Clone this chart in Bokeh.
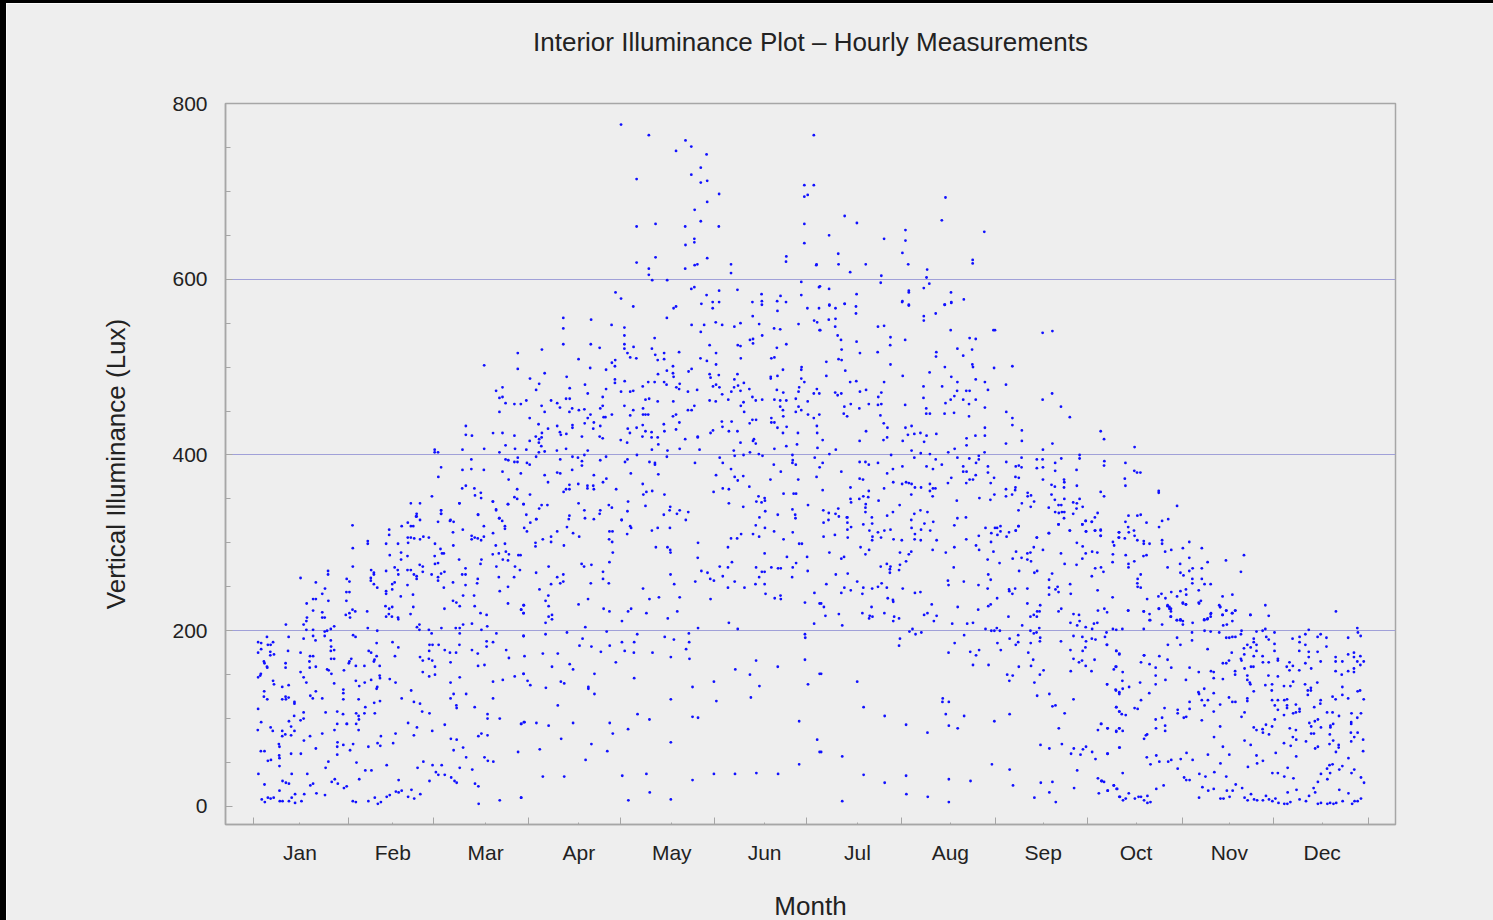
from bokeh.plotting import figure
from bokeh.models import FixedTicker, ColumnDataSource, Title
from bokeh.embed import file_html
from bokeh.resources import INLINE

TITLE = "Interior Illuminance Plot \u2013 Hourly Measurements"
X_LABEL = "Month"
Y_LABEL = "Vertical Illuminance (Lux)"
MONTHS = ["Jan", "Feb", "Mar", "Apr", "May", "Jun", "Jul", "Aug", "Sep", "Oct", "Nov", "Dec"]
MONTH_LABEL_AT = [15.2, 45.6, 76.0, 106.5, 136.9, 167.3, 197.7, 228.1, 258.5, 288.9, 319.4, 349.8]
MONTH_EDGES = [0, 31, 59, 90, 120, 151, 181, 212, 243, 273, 304, 334, 365]
Y_MAJOR = [0, 200, 400, 600, 800]
Y_MINOR = [50, 100, 150, 250, 300, 350, 450, 500, 550, 650, 700, 750]
Y_GRID = [200, 400, 600]

# (day of year, lux)
jan = [(1.5,187),(2.5,186),(4.4,193),(6.4,187),(4.7,184),(5.6,184),(2.5,179),(1.5,175),(5.5,176),(6.7,173),(5.5,172),(3.4,165),(3.6,163),(4.4,159),(4.5,158),(2.4,151),(2.2,149),(1.5,147),(6.4,143),(6.7,139),(9.4,136),(11.5,138),(3.5,131),(3.4,125),(4.5,122),(9.4,122),(10.5,125),(10.6,122),(11.5,124),(13.4,119),(13.4,117),(1.5,111),(2.5,96),(1.4,87),(5.6,90),(6.3,86),(11.6,97),(12.3,91),(9.4,86),(10.4,82),(9.4,80),(12.3,81),(13.4,86),(13.3,103),(16.4,107),(16.4,100),(15.4,98),(15.4,175),(18.3,165),(18.5,171),(19.5,171),(18.4,158),(20.4,159),(16.4,147),(17.3,141),(15.4,153),(11.3,177),(10.5,163),(10.5,158),(11.5,193),(16.4,191),(10.6,207),(16.4,207),(17.5,215),(17.3,211),(17.3,201),(19.5,201),(19.5,194),(20.3,189),(23.3,194),(23.3,199),(24.1,200),(25.3,202),(26.4,205),(25.3,189),(25.4,182),(26.4,178),(25.3,177),(25.4,168),(26.4,168),(24.1,156),(24.6,155),(25.5,151),(26.4,140),(20.4,131),(18.6,126),(19.4,123),(22.5,123),(23.6,107),(27.4,108),(29.3,105),(26.5,87),(27.4,94),(18.5,80),(22.5,83),(16.5,75),(20.4,66),(8.3,71),(8.5,68),(12.3,60),(15.5,60),(8.4,58),(8.5,55),(8.5,46),(2.4,63),(3.6,63),(4.7,52),(5.7,53),(1.6,37),(3.6,25),(8.5,18),(9.5,29),(10.6,27),(11.6,26),(12.5,37),(17.6,37),(18.6,24),(19.5,26),(2.7,8),(3.7,5),(4.7,10),(5.6,9),(6.6,10),(8.6,6),(9.5,6),(11.6,6),(12.5,10),(13.6,14),(13.6,4),(15.7,6),(16.6,14),(20.6,15),(23.4,13),(23.6,44),(24.5,51),(27.4,59),(27.4,68),(27.5,73),(29.4,70),(25.6,28),(26.6,31),(27.6,26),(29.6,21),(30.5,23),(30.5,94),(15.4,260),(20.4,255),(23.4,248),(24.4,268),(24.4,264),(22.5,242),(19.5,236),(20.4,236),(17.4,231),(24.5,234),(19.5,223),(22.5,221),(22.5,215),(23.3,215),(30.5,259),(30.4,244),(30.4,234),(30.2,218),(29.4,133),(29.4,129),(29.4,122),(29.6,155)]
feb = [(31.4,256),(31.4,244),(31.4,220),(32.4,224),(33.3,222),(31.6,215),(32.4,320),(32.5,294),(32.5,273),(37.4,302),(37.4,299),(38.5,269),(39.4,266),(39.4,264),(38.4,260),(38.4,257),(39.4,253),(40.5,249),(43.4,299),(44.4,315),(44.4,309),(44.6,286),(43.4,268),(46.2,272),(47.2,269),(47.4,264),(46.2,255),(45.4,253),(45.4,247),(43.4,245),(43.4,242),(47.3,299),(48.3,289),(48.3,281),(48.5,319),(50.4,285),(50.5,323),(51.5,319),(52.3,319),(53.4,333),(53.4,330),(54.5,326),(50.6,300),(50.5,306),(51.5,306),(52.6,305),(54.5,304),(55.6,307),(57.4,306),(50.4,269),(51.5,269),(52.5,264),(53.4,262),(53.4,259),(54.4,275),(55.4,273),(55.4,267),(50.4,252),(52.2,241),(48.2,239),(43.2,228),(44.4,225),(45.4,227),(44.3,219),(43.4,216),(45.3,216),(47.3,215),(47.4,213),(51.4,219),(52.3,227),(37.2,222),(37.4,203),(40.5,200),(53.5,204),(54.3,207),(54.3,201),(57.4,201),(58.3,197),(32.6,195),(33.4,193),(40.3,186),(37.7,177),(38.5,175),(40.3,171),(39.6,167),(39.4,165),(45.5,187),(47.4,181),(46.3,171),(32,168),(31.4,165),(31.2,163),(33.5,160),(36.3,160),(41.3,160),(41.3,149),(41.4,146),(38.5,144),(36.4,141),(33.5,143),(34.6,137),(40.5,136),(40.3,134),(44.6,145),(46.5,141),(34.4,122),(39.5,118),(41.4,120),(48.5,123),(51.6,132),(52.5,119),(54.5,117),(55.2,108),(57.6,106),(36.6,113),(36.3,106),(33.6,106),(34.4,103),(34.5,99),(39.7,106),(33.6,94),(30.6,94),(34.4,87),(50.6,95),(53.5,90),(46.5,83),(41.7,80),(40.6,72),(41.5,69),(45.7,72),(32.6,71),(37.6,68),(31.6,64),(52.5,81),(58.5,86),(33.7,50),(43.6,47),(36.6,41),(38.6,41),(34.6,31),(53.7,44),(55.6,51),(58.6,47),(57.6,29),(47.5,30),(32.5,6),(33.5,5),(37.6,6),(39.7,10),(40.7,3),(41.7,5),(43.6,11),(44.6,13),(46.6,17),(47.5,16),(48.5,18),(50.6,11),(51.7,19),(52.6,9),(54.6,14),(58.3,264),(57.5,177),(54.5,170),(55.4,166),(57.4,168),(58.5,166),(55.4,153),(57.5,148),(54.5,345),(53.2,330),(51.5,345),(58.4,353),(57.6,184),(58.6,184)]
mar = [(59.4,299),(59.3,285),(59.4,276),(60.4,277),(61.2,293),(61.7,288),(62.3,288),(61.4,337),(61.4,333),(60.4,324),(64.3,325),(65.5,324),(65.3,312),(68.5,315),(67.4,345),(73.5,332),(78.3,347),(79.4,337),(83.3,344),(88.4,344),(80.4,328),(81.4,325),(82.3,319),(82.3,316),(75.4,319),(75.4,307),(71.4,308),(71.4,304),(72.4,306),(73.4,305),(74.5,303),(78.4,311),(65.4,297),(79.3,297),(82.3,299),(82.6,290),(83.6,287),(78.3,287),(80.3,288),(81.6,281),(83.3,280),(86.7,286),(87.4,286),(67.3,281),(74.6,281),(74.3,276),(79.5,273),(85.6,273),(87.2,269),(69.4,271),(68.3,264),(69.4,264),(73.4,259),(73.2,254),(80.3,261),(85.3,261),(83.3,250),(65.3,255),(69.4,252),(62.3,249),(62.5,267),(61.4,265),(60.4,261),(60.4,257),(80.6,245),(68.6,240),(72.2,240),(65.3,234),(66.4,232),(67.5,228),(72.4,228),(62.5,225),(83.3,231),(87.6,224),(88.4,229),(88.4,220),(74.3,220),(76.3,218),(76.5,205),(71.5,208),(68.6,207),(67.5,203),(66.2,203),(61.5,203),(74.6,201),(67.5,197),(79.5,197),(88.4,194),(76.3,188),(76.3,182),(78.4,187),(67.4,184),(71.5,178),(73.4,174),(66.3,175),(64.3,175),(62.6,178),(60.6,184),(59.4,159),(59.4,150),(64.5,164),(67.5,147),(73.5,160),(75.6,161),(82.7,178),(83.6,169),(88.4,151),(85.5,148),(81.6,144),(78.4,142),(64.5,141),(65.5,128),(69.6,128),(64.5,123),(78.4,123),(66.4,115),(66.5,112),(72.4,113),(76.6,105),(76.6,100),(80.6,100),(87.6,94),(88.5,96),(62.6,93),(64.6,77),(66.5,76),(73.6,80),(74.6,83),(76.6,81),(65.5,64),(68.6,67),(69.6,56),(75.6,56),(76.7,52),(78.5,51),(86.6,62),(61.6,47),(59.7,39),(60.5,36),(62.6,36),(64.7,33),(65.8,29),(66.5,27),(67.5,44),(71.6,42),(72.5,26),(73.6,23),(73.7,3),(80.6,7),(87.6,10),(75.5,502),(86.5,516),(86.5,498),(79.4,473),(81.5,477),(80.5,465),(81.5,466),(82.5,459),(85.4,458),(87.5,458),(89.3,462),(80.5,449),(69.5,433),(78.4,425),(81.5,425),(85.4,422),(69.5,423),(71.5,422),(82.5,411),(75.5,407),(85.6,407),(68.4,406),(89.3,406),(80.5,403),(59.3,406),(59.3,403),(60.4,403),(86.5,397),(82.5,395),(83.4,394),(85.4,392),(86.4,392),(71.3,395),(89.5,391),(68.4,383),(71.3,384),(75.4,383),(81.5,381),(61.4,386),(60.5,375),(87.5,379),(83.5,372),(68.3,362),(69.5,365),(72.3,362),(86.3,361),(74.4,357),(72.5,354),(74.5,351),(85.4,352),(86.3,350),(67.4,345),(78.4,347),(83.3,344),(88.4,344),(61.4,337),(61.4,333),(79.4,338),(73.5,332),(89.3,332),(80.5,328),(64.5,326)]
apr = [(90.5,487),(93.5,481),(92.5,474),(94.4,520),(95.3,493),(94.3,456),(95.3,449),(90.4,442),(93.3,435),(94.4,425),(92.4,421),(94.3,420),(90.4,416),(93.5,418),(93.4,414),(94.2,410),(93.4,403),(95.3,404),(99.3,405),(102.3,407),(109.4,405),(101.4,556),(101.4,544),(101.4,526),(110.5,554),(110.4,526),(113.3,522),(117.2,548),(106.4,509),(110.2,499),(115.4,497),(118.4,508),(117.3,505),(118.3,501),(102.5,489),(108.5,480),(103.5,476),(118.3,486),(118.3,482),(115.4,475),(109.4,470),(97.4,462),(99.4,459),(102.3,464),(103.5,464),(114.3,466),(100.3,454),(104.3,453),(103.4,449),(106.5,451),(108.3,452),(113.5,453),(114.3,456),(110.3,446),(109.4,442),(114.6,443),(115.2,443),(117.3,446),(108.4,436),(111.4,437),(104.4,434),(104.4,431),(99.4,433),(96.4,430),(113.5,433),(111.2,430),(100.3,426),(100.6,423),(102.4,424),(107.5,421),(113.3,421),(114.3,419),(92.5,398),(104.4,398),(106.2,397),(108.3,400),(115.4,398),(100.4,395),(107.5,393),(107.5,388),(113.5,394),(90.4,389),(95.3,377),(99.4,380),(100.4,379),(104.3,383),(111.4,377),(96.4,369),(114.4,369),(115.5,373),(106.3,367),(103.4,366),(109.3,365),(111.2,365),(102.3,361),(103.4,361),(109.3,362),(111.4,361),(118.7,361),(101.5,358),(90.5,355),(94.3,343),(96.2,343),(93.5,339),(106.4,345),(116.3,343),(117.3,340),(108.3,337),(113.5,337),(113.3,333),(103.4,331),(92.6,327),(103.2,327),(108.5,328),(111.4,327),(90.6,323),(88.6,317),(89.5,313),(92.5,327),(102.6,318),(99.4,313),(104.6,311),(97.4,307),(106.6,307),(94.7,304),(97.4,301),(92.3,300),(92.3,296),(101.6,297),(116.5,313),(117.5,313),(116.4,304),(117.4,301),(117.6,289),(116.5,278),(107.4,276),(108.2,273),(110.6,275),(96.6,273),(114.4,267),(92.5,266),(101.4,264),(99.4,261),(114.4,259),(101.4,256),(100.4,254),(97.4,253),(110.4,254),(116.3,254),(93.6,247),(96.5,240),(95.6,234),(96.6,228),(88.5,229),(87.6,224),(88.4,220),(106.4,230),(109.5,236),(114.6,225),(116.5,222),(97.7,218),(96.6,216),(97.7,213),(95.6,209),(108.6,204),(88.4,194),(95.6,196),(102.6,198),(115.6,199),(107.7,191),(106.7,183),(110.6,182),(116.6,183),(113.7,176),(88.7,171),(94.7,174),(99.6,174),(118.6,164),(97.7,159),(103.5,162),(104.6,156),(111.6,151),(88.4,151),(89.7,143),(90.6,138),(100.6,142),(101.7,140),(95.7,135),(109.6,136),(109.6,134),(111.6,128),(99.6,115),(88.7,96),(87.6,94),(92.6,95),(96.6,92),(104.6,95),(116.6,95),(117.6,83),(100.7,77),(110.6,71),(93.7,65),(115.8,63),(108.7,53),(94.7,34),(101.7,34),(87.6,10)]
may = [(121.4,545),(121.4,536),(121.4,526),(121.4,521),(124.4,523),(124.3,569),(135.3,556),(137.5,567),(138.3,569),(143.4,548),(131.3,533),(130.4,521),(131.5,514),(132.3,508),(134.4,516),(134.4,509),(139.3,517),(122.4,516),(123.3,511),(125.3,510),(137.3,501),(135.3,496),(137.3,493),(137.5,489),(142.4,495),(143.4,498),(132.4,492),(121.5,484),(129.2,483),(131.3,483),(134.4,483),(135.2,480),(139.5,481),(138.4,477),(139.3,475),(127.4,478),(120.3,472),(123.3,472),(124.3,473),(142.2,472),(145.2,474),(128.3,463),(129.5,464),(132.3,461),(137.4,461),(121.4,456),(124.3,451),(127.5,453),(144.3,456),(142.2,451),(143.4,451),(123.3,445),(127.5,446),(128.3,446),(129.2,446),(137.3,444),(138.3,446),(139.4,437),(122.5,430),(125.4,431),(127.4,434),(134.3,435),(128.3,427),(130.3,426),(134.5,427),(138.3,429),(123.2,425),(127.3,421),(130.3,420),(132.3,420),(141.3,418),(145.4,420),(120.2,417),(122.3,414),(132.5,412),(130.4,406),(135.5,405),(139.5,407),(146,406),(125.5,400),(135.3,398),(122.4,395),(121.6,392),(129.6,392),(131.4,391),(131.4,389),(144.5,391),(123.5,379),(132.5,378),(127.4,367),(128.6,358),(127.6,355),(130.5,359),(134.5,355),(122.6,347),(128.3,342),(136.4,341),(136.2,337),(122.4,336),(134.3,332),(139.5,337),(142.3,335),(138.6,333),(120.5,326),(141.5,326),(120.5,326),(122.3,310),(123.3,319),(123.6,317),(130.4,314),(132.3,317),(136.3,317),(131.7,295),(135.5,295),(136.4,292),(136.5,289),(136.5,264),(137.7,253),(138.7,222),(135.6,214),(145.5,300),(145.4,283),(146.6,268),(148.6,266),(144.6,256),(149.5,259),(150.7,257),(120.6,211),(122.6,222),(123.6,225),(128.6,220),(127.5,248),(129.6,236),(132.7,238),(139.5,238),(149.6,236),(145.5,203),(125.6,196),(134.6,193),(142.5,197),(137.6,190),(142.6,187),(120.6,187),(124.6,187),(141.6,179),(121.5,177),(124.5,175),(130.6,175),(136.6,170),(142.7,168),(124.6,146),(143.7,136),(150.7,142),(136.6,122),(125.7,105),(129.6,99),(143.7,102),(145.5,101),(122.6,88),(136.6,73),(120.7,35),(128.6,37),(143.7,30),(150.7,37),(122.7,7),(129.7,16),(136.6,8),(120.3,776),(129.4,764),(141.4,758),(143.3,751),(138.3,746),(148.3,742),(146.4,727),(143.3,719),(146.4,710),(148.5,712),(125.4,714),(148.5,688),(144.4,679),(146.4,666),(125.4,660),(131.6,663),(141.3,660),(144.3,646),(144.3,642),(141.4,639),(125.4,619),(131.6,625),(148.5,624),(141.3,612),(144.4,616),(145.3,617),(129.4,612),(129.4,605),(130.5,599),(135.4,599),(143.3,589),(144.3,591),(118.5,585),(120.3,578),(146.6,572),(148.3,582),(150.3,574),(150.3,567),(149.3,525),(146.3,510),(148.4,507),(149.3,492),(149.6,488),(149.3,462),(145.4,421),(150.4,478),(149.6,425),(150.4,428),(146.4,540),(147.5,548)]
jun = [(152.4,697),(152.3,660),(156.3,617),(156.3,607),(152.4,587),(152.4,574),(158.4,588),(163.3,574),(166.3,583),(166.4,575),(166.4,571),(171.4,575),(172.5,581),(171.5,564),(174.3,574),(179.3,582),(151.3,551),(153.4,548),(157.4,546),(159.4,550),(163.4,558),(165.5,549),(170.4,544),(172.4,543),(166.5,536),(178.4,549),(158.5,525),(159.4,524),(162.5,531),(163.5,532),(163.5,527),(171.3,522),(174.4,526),(151.4,516),(159.5,510),(169.5,510),(170.5,511),(151.4,503),(179.4,500),(179.3,497),(173.3,497),(152.3,491),(158.4,492),(157.4,486),(160.5,482),(169.3,489),(169.3,487),(171.5,490),(179.3,487),(180.3,483),(178.6,477),(178.4,472),(173.4,471),(171.3,474),(162.3,475),(158.6,479),(157.3,477),(159.4,473),(156.4,472),(153.4,469),(151.4,480),(152.5,477),(163.3,466),(164.4,462),(166.5,463),(170.5,463),(172.4,462),(174.4,462),(177.5,464),(155.4,463),(151.3,461),(159.5,456),(160.4,460),(160.6,449),(172.4,455),(173.3,451),(178.4,455),(179.3,451),(177.5,449),(173.4,444),(169.5,442),(169.5,437),(170.5,437),(171.5,431),(174.5,432),(173.3,425),(178.2,425),(164.5,440),(163.3,440),(162.4,436),(153.3,438),(156.5,438),(153.5,432),(155.6,427),(158.4,427),(163.8,418),(162.5,403),(157.2,405),(160.4,400),(170.5,407),(174.4,410),(177.9,412),(159.4,414),(164.4,413),(163.5,416),(152.6,397),(157.5,399),(165.4,401),(166.6,399),(176.4,400),(153.6,391),(176.5,394),(176.4,391),(177.5,389),(170.3,389),(156.3,384),(172.6,381),(151.4,377),(160.3,376),(157.5,375),(158.5,371),(169.2,372),(178.3,372),(162.3,364),(153.6,362),(155.6,361),(150.6,358),(165.3,353),(167.3,351),(167.4,348),(164.6,347),(166.3,346),(173.5,356),(176.8,356),(177.6,356),(155.6,345),(160.3,341),(167.5,336),(176.4,338),(171.6,332),(177.3,332),(165.6,329),(177.4,328),(155.3,295),(156.3,305),(158.3,305),(159.6,310),(163.5,310),(164.4,320),(165.5,307),(167.4,317),(170.4,313),(173.5,304),(176.5,312),(178.6,299),(179.5,299),(167.3,288),(174.6,284),(177.6,277),(164.5,272),(166.4,267),(167.3,267),(169.5,272),(171.7,271),(172.6,271),(176.5,272),(176.3,261),(165.5,261),(157.5,256),(164.3,253),(167.3,253),(155.3,249),(160.7,249),(167.6,242),(170.6,237),(172.5,240),(172.6,236),(180.5,232),(152.6,273),(153.6,262),(155.3,272),(156.6,278),(155.6,209),(158.5,202),(180.5,196),(180.6,192),(157.7,156),(164.5,166),(162.5,150),(171.6,159),(165.6,137),(162.8,124),(180.5,167),(151.5,120),(178.6,97),(178.6,48),(157.6,37),(164.6,38),(171.7,37),(180.3,694),(181.4,696),(180.3,663),(180.3,641),(174.4,626),(174.3,620),(179.3,597),(180.3,707)]
jul = [(183.4,764),(183.4,707),(184.2,616),(185.1,591),(185.1,567),(181.3,567),(183.5,553),(184.5,551),(185.3,542),(184.4,475),(183.4,470),(185.2,470),(181.4,461),(181.5,446),(185.2,446),(183.4,442),(184.4,433),(184.5,425),(188.5,570),(190.5,567),(193.5,572),(197.2,569),(197.2,561),(188.3,554),(190.5,555),(190.4,546),(185.5,542),(191.2,536),(192.3,531),(197.4,529),(204.4,546),(206.4,547),(208.5,534),(208.4,525),(192.5,520),(191.5,509),(192.5,508),(187.5,506),(204.3,517),(198.5,516),(208.5,503),(193.7,496),(187.5,490),(195.3,483),(197.3,484),(206.4,483),(200.5,474),(198.5,472),(205.5,471),(190.4,471),(191.2,468),(192.4,470),(204.5,466),(204.4,457),(205.5,458),(201.4,458),(195.5,458),(193.4,455),(198.3,453),(193.2,447),(194.3,444),(205.2,445),(206.3,436),(207.5,431),(200.5,427),(198.4,416),(207.4,420),(206.2,417),(190.6,406),(208.7,400),(188.5,401),(186.3,417),(184.6,408),(183.7,397),(204.4,391),(200.3,392),(201.4,389),(198.4,392),(207.4,379),(192.4,381),(185.3,386),(186.3,391),(184.3,375),(198.4,373),(199.5,372),(209.4,369),(206.4,362),(195.4,363),(186.3,360),(201.4,359),(201.2,352),(199.6,353),(198.3,350),(195.4,350),(195.6,346),(204.6,348),(200.4,344),(211.5,343),(200.3,340),(191.4,339),(186.5,337),(200.3,335),(207.4,331),(209.3,335),(181.5,343),(188.3,334),(190.5,333),(191.6,330),(194.2,329),(202.4,329),(209.3,384),(212.4,387),(186.6,307),(190.3,309),(186.6,323),(188.2,326),(194.4,329),(194.4,323),(195.6,318),(194.4,315),(194.5,306),(199.6,321),(202.5,322),(201.6,314),(204.4,312),(206.5,314),(208.5,315),(202.6,307),(202.5,303),(205.4,306),(209.5,304),(212.2,303),(198.7,295),(201.5,292),(200.3,287),(188.5,289),(192.4,282),(193.3,284),(211.6,289),(205.3,273),(207.3,276),(208.5,273),(208.3,270),(208.3,266),(211.6,275),(211.3,269),(190.6,264),(194.5,265),(187.5,253),(197.6,256),(205.6,254),(204.4,250),(207.3,249),(202.5,248),(199.6,249),(193.4,249),(192.4,243),(195.5,246),(199.3,242),(207.6,237),(209.3,235),(209.4,233),(202.3,227),(186.7,227),(185.8,231),(183.6,243),(185.3,231),(181.2,284),(181.4,268),(199.3,220),(206.5,220),(187.2,217),(191.6,219),(201.7,217),(202.6,216),(201.5,214),(209.7,216),(211.3,214),(209.4,211),(192.7,206),(183.5,208),(211.6,191),(211.3,183),(197.6,142),(185.8,151),(181.5,139),(185.3,151),(199.7,113),(206.6,103),(184.5,76),(185.8,62),(192.7,57),(185.3,62),(199.7,36),(206.6,27),(192.7,6),(193.5,672),(197.5,664),(188.4,650),(206.4,646),(191.4,629),(184.3,617),(191.5,617),(200.4,617),(195.3,608),(205.5,604),(205.3,596),(185.4,592),(188.4,589),(197.4,583),(188.5,571),(193.5,572)]
aug = [(212.3,574),(214.5,570),(213.3,531),(219.4,558),(219.4,553),(223.3,561),(228.2,542),(226.2,571),(228.4,573),(242.2,542),(242.7,542),(234.4,533),(236.4,532),(230.4,521),(235.2,520),(232.3,513),(223.5,517),(223.4,512),(235.3,503),(235.5,500),(226.3,500),(242.4,499),(221.3,494),(212.5,490),(228.4,489),(236.4,486),(230.4,483),(239.4,483),(219.3,478),(225.4,478),(240.4,474),(230.3,473),(233.3,473),(234.4,473),(229.4,467),(219.3,465),(232.3,463),(236.4,463),(228.2,463),(226.5,459),(213.3,457),(234.2,458),(239.4,454),(220.2,453),(220.2,447),(221.4,447),(226.2,447),(229.3,448),(234.2,444),(213.4,431),(215.4,433),(214.2,423),(216.3,424),(218.3,425),(220.3,422),(223.5,424),(239.4,431),(236.3,422),(239.4,422),(233.4,419),(233.4,411),(212.5,416),(219.5,415),(229.5,407),(215.4,405),(227.4,403),(218.4,402),(239.3,403),(221.4,401),(216.3,397),(223.3,395),(230.4,397),(234.3,396),(237.4,399),(237.4,395),(236.5,391),(240.4,387),(225.3,389),(220.3,387),(222.4,384),(232.3,387),(232.3,381),(233.4,381),(240.4,380),(236.4,377),(242.4,374),(228.4,374),(234.4,372),(235.5,372),(233.3,368),(227.3,368),(241.3,368),(212.3,367),(213.6,369),(214.5,368),(215.4,367),(216.5,363),(218.5,363),(221.4,367),(222.4,362),(223.2,362),(221.4,359),(215.3,355),(222.3,353),(242.5,355),(241.2,349),(237.6,351),(230.2,348),(216.3,333),(218.3,337),(220.6,335),(233.2,329),(230.4,328),(215.3,326),(219.6,322),(222.5,324),(229.4,320),(215.4,317),(218.5,315),(221.5,314),(216.5,310),(216.4,304),(218.4,303),(223.6,303),(233.3,304),(239.6,317),(241.5,311),(237.4,308),(241.4,301),(236.5,297),(215.3,290),(214.5,287),(222.3,292),(226.6,289),(229.4,295),(237.5,292),(242.2,290),(240.3,281),(213.6,279),(229.2,272),(212.5,248),(227.3,257),(227.5,252),(232.5,256),(237.3,252),(240.5,264),(241.3,258),(240.3,248),(216.5,243),(218.3,244),(240.5,228),(241.3,230),(222,230),(230.5,227),(237.2,224),(219.5,218),(220.6,220),(223.6,217),(222.7,211),(228.7,208),(233.6,208),(235.5,209),(215.7,202),(239.6,202),(214.7,199),(216.7,196),(218.6,198),(241.5,200),(242.5,200),(232.6,195),(229.5,186),(227.5,175),(234.6,176),(237.5,178),(236.5,172),(235.5,161),(240.6,161),(225.6,123),(225.5,119),(227.6,119),(226.6,105),(232.6,103),(213.6,93),(220.6,84),(227.6,92),(230.5,89),(242.5,97),(241.7,48),(213.6,35),(227.6,31),(234.7,29),(213.7,14),(220.7,11),(227.6,5),(226.5,693),(225.3,667),(213.4,656),(239.2,654),(213.4,644),(212.4,630),(235.4,622),(235.4,618),(214.3,617),(220.5,611),(220.3,602),(221.2,595),(219.4,590),(214.5,587),(214.5,585),(228.3,585),(232.5,577),(212.4,575),(228.4,574),(214.5,571),(226.3,571)]
sep = [(243.4,317),(244.5,319),(244.5,313),(243.5,309),(246.5,307),(247.3,312),(249.5,314),(250.4,319),(242.7,317),(249.6,290),(248.5,282),(251.4,283),(253.3,288),(254.3,289),(255.4,295),(253.3,281),(254.5,279),(258.4,292),(264.3,288),(271.4,296),(272.4,288),(271.3,282),(265.5,276),(269.4,275),(250.6,268),(255.6,266),(256.5,268),(261.4,265),(247.3,247),(247.4,245),(249.3,248),(253.3,248),(260.4,258),(260.4,249),(263.2,250),(262.5,247),(263.5,244),(267.3,253),(248.4,242),(260.4,241),(267.5,242),(243.4,237),(253.3,231),(257.5,229),(256.5,222),(257.3,222),(263.5,222),(264.4,225),(247.1,216),(254.3,216),(255.4,218),(256.4,216),(268.4,219),(270.2,218),(270.4,211),(267.4,209),(269.6,206),(251.6,206),(257.2,203),(272.4,204),(243.3,203),(244.3,200),(254.3,200),(255.4,197),(256.3,198),(244.2,277),(256.4,306),(260.3,311),(263.5,321),(267.2,314),(271.3,321),(272.4,325),(272.5,313),(269.5,300),(247.5,191),(250.3,195),(257.5,192),(257.4,188),(268.4,194),(271.3,193),(243.5,186),(250.3,187),(249.5,184),(254.4,186),(264.3,188),(272.5,188),(244.6,178),(253.6,175),(267.4,178),(272.3,181),(271.4,177),(268.4,168),(271.2,166),(270.2,164),(250.5,159),(254.5,160),(255.2,167),(258.6,155),(267.5,154),(272.4,160),(246.7,150),(248.5,149),(257.4,150),(247.4,143),(255.6,141),(256.5,126),(260.5,128),(268.4,122),(261.5,114),(262.5,115),(247.5,105),(265.5,106),(263.6,89),(257.6,70),(264.6,71),(260.5,66),(268.5,66),(267.6,60),(270.7,59),(271.5,65),(272.5,68),(247.5,42),(269.6,41),(248.6,24),(257.7,27),(261.5,28),(268.6,21),(255.6,10),(260.5,16),(262.6,5),(248.4,501),(246.3,480),(258.3,539),(261.5,541),(258.3,463),(261.4,470),(264.3,455),(267.2,443),(246.4,449),(248.4,442),(248.4,434),(251.5,428),(251.5,416),(246.3,413),(258.4,406),(261.5,413),(270.4,400),(270.4,396),(251.4,397),(246.4,392),(256.4,395),(258.3,395),(264.4,396),(262.4,391),(249.5,387),(250.5,388),(251.4,386),(256.4,385),(258.4,386),(262.4,382),(269.4,383),(249.4,375),(250.5,374),(258.4,372),(265.3,372),(265.4,369),(261.2,366),(262.3,364),(265.3,363),(269.5,365),(246.3,361),(249.4,363),(249.3,360),(248.3,355),(246.3,353),(253.4,357),(254.5,354),(253.4,353),(261.2,355),(262.3,349),(265.4,350),(270.4,350),(255.5,347),(251.5,345),(254.4,341),(268.3,346),(269.5,345),(263.5,343),(264.4,343),(271.4,341),(260.3,340),(250.4,337),(262.4,335),(263.6,334),(264.6,335),(265.4,335),(269.4,339),(268.3,333),(265.3,328),(272.4,325),(271.3,321),(263.5,321),(250.4,319),(249.5,314),(267.2,314),(272.5,313),(260.4,311),(256.4,306)]
oct_ = [(274.4,324),(275.5,314),(277.3,314),(277.3,308),(283.3,312),(283.2,306),(281.3,301),(281.7,297),(274.5,290),(276.2,289),(281.3,287),(281.2,278),(275.5,271),(277.4,272),(278.2,267),(274.4,262),(276.3,246),(281.2,238),(276.4,223),(278.5,225),(279.4,221),(275.1,208),(276.2,209),(274.5,202),(281.3,202),(282.4,201),(279.2,198),(278.7,193),(274.4,191),(275.6,190),(279.4,184),(282.4,177),(275.3,167),(283.4,174),(274.3,154),(282.2,159),(281.6,156),(279.4,139),(282.2,133),(283.4,130),(282.4,113),(283.4,108),(277.4,94),(276.4,87),(279.5,89),(282.4,86),(283.4,89),(274.5,62),(275.6,54),(279.5,60),(283.4,67),(276.4,32),(277.5,29),(278.4,28),(281.6,24),(282.5,20),(276.7,15),(279.6,18),(283.4,11),(277.3,427),(278.4,418),(288.4,409),(278.5,393),(278.4,388),(285.4,391),(277.3,358),(278.4,353),(288.3,382),(289.2,380),(290.3,380),(285.2,373),(285.4,365),(296.3,359),(296.3,357),(302.3,342),(276.3,334),(275.4,329),(286.4,331),(289.3,331),(290.4,332),(274.4,324),(285.4,324),(292.3,323),(297.4,325),(299.4,327),(275.4,314),(277.3,315),(286.3,318),(296.4,318),(283.3,312),(286.5,312),(288.2,314),(288.4,308),(277.3,308),(283.3,306),(285.2,305),(289.3,303),(291.4,302),(291.4,299),(293.3,299),(297.4,303),(297.4,299),(298.4,290),(300.4,292),(285.5,286),(291.3,285),(292.3,286),(303.3,276),(286.4,276),(288.3,279),(286.4,272),(299.2,272),(303.4,266),(290.4,264),(289.4,259),(289.3,254),(289.4,250),(290.4,249),(300.4,244),(303.4,245),(297.2,242),(296.2,239),(298.5,237),(302.3,239),(292.5,236),(299.2,229),(299.8,227),(300.3,225),(300.3,222),(296.4,225),(291.4,222),(293.3,219),(300.2,216),(303.4,213),(302.3,212),(293.5,212),(286.3,223),(286.3,223),(291.4,222),(293.3,212),(296.3,225),(297.4,207),(299.2,228),(299.8,225),(300.3,216),(302.2,212),(303.4,212),(284.4,202),(291.4,202),(302.3,192),(279.3,184),(299.3,184),(303.4,184),(282.4,177),(283.4,173),(291.5,172),(296.5,171),(299.2,167),(290.5,164),(293.3,162),(282.4,159),(295.3,158),(300.4,158),(284.5,153),(295.3,149),(284.4,143),(290.2,141),(298.5,144),(279.4,139),(295.3,139),(284.5,134),(286.6,136),(282.3,132),(283.4,128),(293.2,129),(290.5,121),(282.4,113),(288.4,112),(289.4,111),(298.2,112),(302.5,110),(302.5,106),(283.4,108),(284.2,105),(285.5,104),(295.3,99),(297.4,101),(277.5,94),(298.4,92),(279.6,89),(283.4,89),(282.4,85),(284.5,86),(295.4,89),(298.4,86),(292.5,82),(292.1,81),(291.5,77),(283.5,67),(279.6,60),(292.4,56),(295.5,58),(303.5,54),(296.5,51),(299.4,51),(300.4,53),(293.6,48),(302.5,43),(284.5,38),(281.6,24),(277.7,29),(297.9,24),(295.5,20),(282.7,20),(279.6,18),(286.5,15),(292.6,12),(283.6,11),(285.5,9),(288.5,9),(289.7,11),(290.5,11),(284.6,7),(291.5,7),(292.6,4),(293.6,5),(303.4,212),(291.5,172)]
nov = [(306.3,301),(304.2,294),(310.4,294),(306.3,283),(324.2,286),(318.3,280),(312.3,278),(307.4,271),(310.4,271),(306.3,268),(304.4,263),(323.2,267),(307.3,259),(310.4,259),(307.3,254),(311.3,253),(313.3,253),(305.2,247),(309.4,246),(317.2,239),(320.4,241),(305.3,241),(310.1,234),(309.4,232),(304.2,232),(305.2,230),(316.1,229),(316.4,227),(318.4,223),(321.4,223),(320.3,220),(313.3,219),(317.2,218),(326.3,218),(312.2,213),(311.2,213),(304.2,231),(305.2,230),(309.5,231),(311.2,212),(312.3,214),(313.4,220),(313.3,216),(316.4,227),(318.4,223),(317.2,218),(320.4,220),(321.3,223),(320.4,211),(318.6,207),(317.4,206),(326.3,218),(331.2,229),(332.3,217),(304.2,211),(304.2,207),(307.4,209),(307.2,198),(311.3,200),(313.3,199),(316.1,198),(323.4,200),(323.2,196),(328.3,199),(330.3,200),(331.2,202),(307.2,189),(318.4,192),(319.4,192),(320.4,193),(321.4,193),(327.4,191),(327.4,187),(331.5,193),(332.3,190),(325.3,184),(328.3,184),(326.4,181),(324.2,180),(312.3,179),(320.2,175),(324.3,173),(327.4,171),(328.3,177),(330.3,171),(323.2,168),(317.3,163),(318.4,163),(319.3,166),(323.4,166),(330.4,164),(332.3,164),(324.4,157),(326.5,159),(327.3,159),(306.4,158),(309.4,153),(313.4,154),(314.3,153),(321.3,154),(321.3,150),(325.3,149),(332.2,149),(305.2,144),(314.3,146),(317.3,145),(325.3,144),(326.1,141),(326.3,139),(331.2,138),(333.4,139),(333.3,132),(311.2,134),(309.3,130),(309.5,128),(314.3,129),(327.4,131),(319.3,124),(320.4,119),(321.4,119),(325.3,123),(325.3,120),(306.4,119),(310.4,121),(312.4,121),(333.4,121),(311.3,115),(316.4,116),(306.4,111),(314.3,108),(324.4,107),(323.4,102),(304.5,101),(305.3,102),(310.4,98),(316.4,91),(327.4,90),(328.3,87),(330.3,88),(330.4,84),(331.4,93),(332.4,82),(333.4,91),(314.4,79),(324.4,75),(326.4,70),(317.3,68),(305.4,61),(312.4,59),(319.4,59),(328.3,58),(307.4,53),(316.5,49),(328.5,49),(330.4,52),(325.5,45),(314.5,39),(309.6,37),(333.5,38),(311.6,34),(318.4,34),(304.6,33),(305.3,30),(306.4,30),(321.5,25),(310.6,22),(314.3,20),(323.6,21),(312.5,18),(318.6,18),(320.5,18),(326.5,14),(331.4,12),(309.5,10),(316.5,9),(317.5,9),(319.5,11),(324.4,10),(325.4,7),(327.5,8),(328.5,7),(330.4,7),(332.4,8),(333.5,6)]
dec = [(354.3,222),(361.3,203),(361.5,198),(362.4,194),(345.4,201),(349.3,196),(348.3,193),(344.3,196),(342.4,193),(340.1,191),(351.2,192),(358.3,192),(334.2,198),(334.2,185),(342.4,187),(344.3,184),(351.2,182),(334.2,177),(342.3,177),(345.4,176),(348.3,176),(358.3,173),(360.2,175),(360.2,170),(362.3,171),(354.2,170),(345.4,170),(335.3,168),(335.3,166),(339.1,164),(344.3,163),(354.2,165),(356.4,165),(361.3,165),(363.4,165),(362.3,161),(349.3,165),(338.2,159),(340.2,160),(339.1,155),(342.3,155),(346.2,157),(354.2,154),(358.3,154),(360.2,157),(360.2,153),(356.2,150),(335.3,148),(348.2,141),(340.3,142),(337.3,137),(339.4,137),(344.2,139),(346.1,135),(356.4,136),(345.1,132),(346.1,132),(345.1,127),(356.4,127),(361.4,131),(362.2,132),(335.3,121),(337.4,121),(338.3,122),(349.3,121),(349.2,117),(353.2,125),(354.2,122),(358.3,123),(363.4,122),(334.3,115),(335.3,110),(338.3,115),(338.3,112),(341.2,116),(347.2,113),(337.3,104),(340.3,106),(341.2,107),(342.4,111),(342.4,108),(351.4,107),(353.2,107),(359.4,106),(362.5,106),(355.3,103),(361.3,101),(334.3,99),(348.4,99),(347.4,97),(345.6,95),(359.3,96),(359.3,94),(353.4,94),(352.5,92),(346.2,91),(349.4,90),(352.5,90),(339.2,89),(341.2,87),(346.2,83),(347.1,83),(352.3,82),(359.2,84),(361.4,84),(340.2,79),(341.3,76),(344.5,74),(353.4,75),(360.3,79),(363.2,76),(359.3,74),(337.3,72),(339.5,69),(348.4,68),(347.5,66),(352.2,71),(355.2,70),(355.2,67),(354.3,62),(363.2,63),(334.6,61),(341.3,57),(358.4,55),(353.2,48),(352.2,47),(356.4,46),(338.5,44),(351.4,43),(355.4,42),(360.3,42),(352.4,38),(335.3,38),(349.4,37),(359.4,38),(337.4,34),(362.5,33),(340.4,32),(351.5,31),(348.4,28),(363.5,27),(347,21),(341.4,19),(355.4,19),(338.5,16),(347.5,16),(358.4,15),(345.5,12),(334.5,9),(335.5,4),(342.4,8),(344.5,6),(337.4,3),(338.4,3),(339.4,5),(348.4,3),(349.4,4),(351.5,3),(352.4,4),(353.5,3),(354.4,4),(356.5,6),(359.6,3),(360.4,6),(361.4,6),(362.5,9)]

MONTH_POINTS = [jan, feb, mar, apr, may, jun, jul, aug, sep, oct_, nov, dec]
days = [pt[0] for m in MONTH_POINTS for pt in m]
lux = [pt[1] for m in MONTH_POINTS for pt in m]

BG = "#eeeeee"
FRAME = "#a6a6a6"
TEXT = "#222222"

p = figure(width=1493, height=920, output_backend="svg", toolbar_location=None,
           x_range=(-9.17, 373.8), y_range=(-20.5, 800),
           min_border_left=219, min_border_right=104, min_border_top=100, min_border_bottom=99,
           background_fill_color=BG, border_fill_color=BG, outline_line_color=FRAME, outline_line_width=1.5)
p.styles = {"border-left": "6px solid #000000", "border-top": "3px solid #000000"}
p.title.text = TITLE
p.title.align = "center"
p.title.vertical_align = "top"
p.title.text_font = "Liberation Sans"
p.title.text_font_size = "26px"
p.title.text_font_style = "normal"
p.title.text_color = TEXT
p.title.standoff = 44
# a blank spacer title between the frame and the real title
p.add_layout(Title(text=" ", text_font_size="19px", standoff=0), "above")

xa = p.xaxis[0]
xa.ticker = FixedTicker(ticks=MONTH_LABEL_AT, minor_ticks=MONTH_EDGES)
xa.major_label_overrides = {t: m for t, m in zip(MONTH_LABEL_AT, MONTHS)}
xa.major_tick_in = 2
xa.major_tick_out = 0
xa.minor_tick_in = 7
xa.minor_tick_out = 0
xa.axis_label = X_LABEL
xa.axis_label_standoff = 24
xa.major_label_standoff = 16

ya = p.yaxis[0]
ya.ticker = FixedTicker(ticks=Y_MAJOR, minor_ticks=Y_MINOR)
ya.major_tick_in = 7
ya.major_tick_out = 0
ya.minor_tick_in = 5
ya.minor_tick_out = 0
ya.axis_label = Y_LABEL
ya.axis_label_standoff = 38
ya.major_label_standoff = 18

for a in (xa, ya):
    a.axis_line_color = FRAME
    a.axis_line_width = 1.5
    a.major_tick_line_color = FRAME
    a.minor_tick_line_color = FRAME
    a.major_label_text_font = "Liberation Sans"
    a.major_label_text_font_size = "21px"
    a.major_label_text_color = TEXT
    a.axis_label_text_font = "Liberation Sans"
    a.axis_label_text_font_size = "26px"
    a.axis_label_text_font_style = "normal"
    a.axis_label_text_color = TEXT

p.xgrid.visible = False
p.ygrid[0].ticker = FixedTicker(ticks=Y_GRID)
p.ygrid[0].grid_line_color = "#a0a0d8"
p.ygrid[0].grid_line_width = 1

src = ColumnDataSource(dict(day=days, lux=lux))
p.scatter("day", "lux", source=src, marker="circle", size=2.8, fill_color="#1010ff", line_color=None)

open("out.html", "w").write(file_html(p, INLINE))
